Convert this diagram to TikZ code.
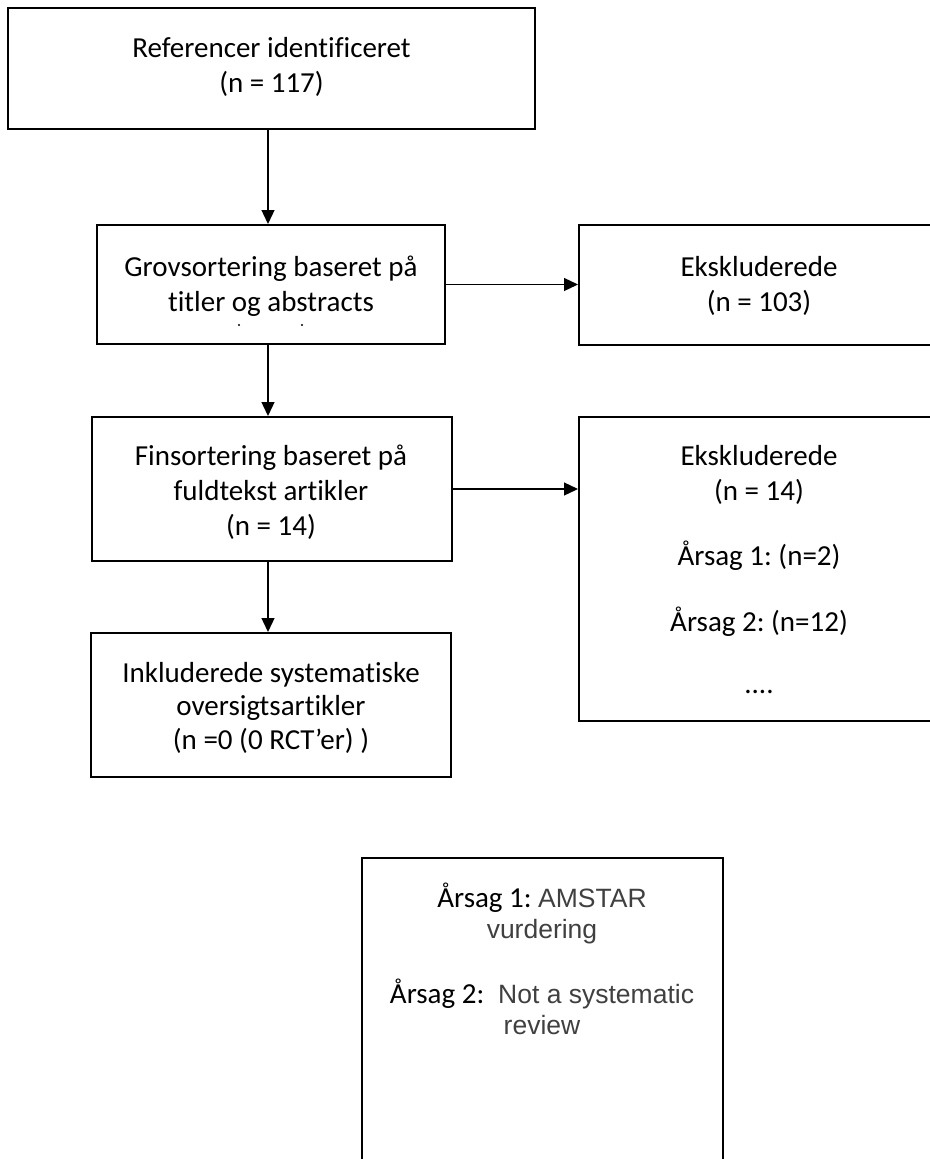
\documentclass[tikz,border=0pt]{standalone}
\usepackage{fontspec}
\setmainfont{Carlito}[Ligatures=NoCommon]
\newfontfamily\arialf{Liberation Sans}[Ligatures=NoCommon]
\usetikzlibrary{arrows.meta,calc}
\definecolor{txtgray}{RGB}{64,64,64}
\newcommand{\argray}[1]{{\arialf\fontsize{26.5bp}{30.5bp}\selectfont\color{txtgray}#1}}
\newcommand{\fstrut}{\rule{0pt}{25bp}}
\frenchspacing
\begin{document}
\begin{tikzpicture}[x=1bp,y=-1bp,
  box/.style={draw=black,line width=2bp,fill=white,inner sep=0pt},
  txt/.style={font=\fontsize{29bp}{35bp}\selectfont,align=center,inner sep=0pt,anchor=north},
  arr/.style={line width=1.3bp,-{Triangle[length=14bp,width=13bp]}}]
\useasboundingbox (0,0) rectangle (930,1159);
% boxes
\node[box,minimum width=527bp,minimum height=121bp] (b1) at (271.5,68.5) {};
\node[box,minimum width=348bp,minimum height=119bp] (b2) at (271,284.5) {};
\node[box,minimum width=360bp,minimum height=120bp] (e1) at (759,285) {};
\node[box,minimum width=360bp,minimum height=144bp] (b3) at (272,489) {};
\node[box,minimum width=360bp,minimum height=304bp] (e2) at (759,569) {};
\node[box,minimum width=360bp,minimum height=144bp] (b4) at (271,705) {};
\node[box,minimum width=361bp,minimum height=352bp] (b5) at (542.5,1034) {};
% texts
\node[txt] (t1) at (271.5,32) {\fstrut Referencer identificeret\\(n = 117)};
\node[txt] (t2) at (271,251) {\fstrut Grovsortering baseret på\\titler og abstracts};
\node[txt] (t3) at (271,440) {\fstrut Finsortering baseret på\\fuldtekst artikler\\(n = 14)};
\node[txt] (t4) at (271,657) {\fstrut Inkluderede systematiske\\[-1.5bp]oversigtsartikler\\[-1.5bp](n =0 (0 RCT’er) )};
\node[txt] (te1) at (759,251) {\fstrut Ekskluderede\\(n = 103)};
\node[txt] (te2) at (759,440) {\fstrut Ekskluderede\\(n = 14)\\[30bp]Årsag 1: (n=2)\\[31bp]Årsag 2: (n=12)\\[27bp]....};
\node[txt,font=\fontsize{29bp}{31bp}\selectfont] (t5) at (542,882)
  {\fstrut Årsag 1: \argray{AMSTAR}\\\argray{vurdering}\\[34bp]Årsag 2: \argray{\ Not a systematic}\\\argray{review}};
% clipped remains of a third text line
\fill (239,325) circle (1.1bp);
\fill (302,325) circle (1.1bp);
% connectors
\coordinate (ax) at (268,0);
\draw[arr] (b1.south -| ax) -- (b2.north -| ax);
\draw[arr] (b2.east) -- (b2.east -| e1.west);
\draw[arr] (b2.south -| ax) -- (b3.north -| ax);
\draw[arr] (b3.east) -- (b3.east -| e2.west);
\draw[arr] (b3.south -| ax) -- (b4.north -| ax);
\end{tikzpicture}
\end{document}
